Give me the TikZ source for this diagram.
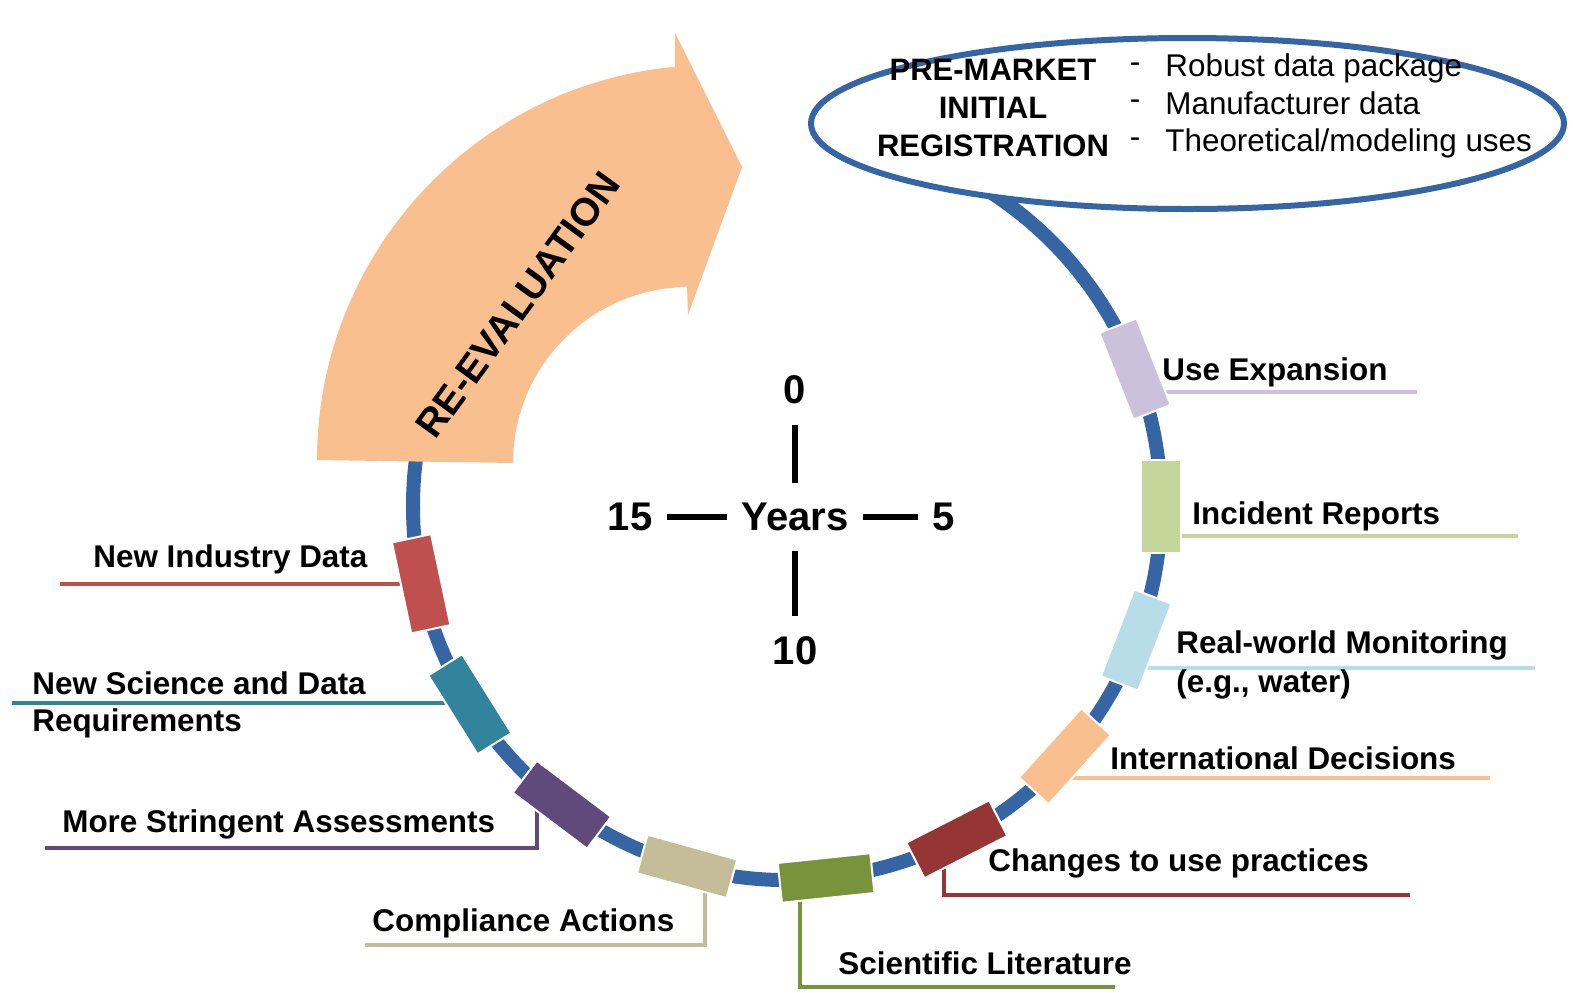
\documentclass[tikz,border=0pt]{standalone}
\usepackage{fontspec}
\setmainfont{Liberation Sans}
\usetikzlibrary{shapes.geometric,calc}
\definecolor{ringblue}{RGB}{54,101,163}
\definecolor{lav}{RGB}{204,193,218}
\definecolor{lgreen}{RGB}{196,215,155}
\definecolor{lblue}{RGB}{183,221,232}
\definecolor{peach}{RGB}{250,191,143}
\definecolor{dred}{RGB}{150,54,52}
\definecolor{olive}{RGB}{119,147,60}
\definecolor{tan}{RGB}{196,189,151}
\definecolor{purp}{RGB}{96,74,123}
\definecolor{teal}{RGB}{49,132,155}
\definecolor{redd}{RGB}{192,80,77}
\definecolor{arrowfill}{RGB}{249,191,143}
\begin{document}
\begin{tikzpicture}[x=0.5pt,y=0.5pt,
  seg/.style={draw=white, line width=1pt, minimum width=20pt, minimum height=46.5pt, inner sep=0pt},
  lead/.style={line width=2pt},
  lab/.style={anchor=west, inner sep=0pt, font=\fontsize{15.7}{19.5}\selectfont\bfseries, align=left},
  num/.style={inner xsep=7pt, inner ysep=10pt, font=\fontsize{20}{24}\selectfont\bfseries},
  tick/.style={line width=3pt}]
\useasboundingbox (0,0) rectangle (1573,-992);
\fill[white] (0,0) rectangle (1573,-992);
\coordinate (C) at (787,-506);
% ring
\draw[ringblue, line width=7pt] ($(C)+(62:374)$) arc[start angle=62, end angle=-188, radius=374];
% leader line ends
\coordinate (e1) at (1417,-392);
\coordinate (e2) at (1518,-536);
\coordinate (e3) at (1535,-668);
\coordinate (e4) at (1490,-778);
\coordinate (e5) at (1410,-895);
\coordinate (e6) at (1115,-987);
\coordinate (e7) at (365,-945);
\coordinate (e8) at (45,-848);
\coordinate (e9) at (12,-703);
\coordinate (e10) at (60,-584);
% segment boxes (positions)
\coordinate (p1) at ($(C)+(21.5:374)$);
\coordinate (p2) at ($(C)+(0:374)$);
\coordinate (p3) at ($(C)+(-21:374)$);
\coordinate (p4) at ($(C)+(-42:374)$);
\coordinate (p5) at ($(C)+(-63:374)$);
\coordinate (p6) at ($(C)+(-84:374)$);
\coordinate (p7) at ($(C)+(-105.5:374)$);
\coordinate (p8) at ($(C)+(-127:374)$);
\coordinate (p9) at ($(C)+(-148:374)$);
\coordinate (p10) at ($(C)+(-168:374)$);
% leader lines
\draw[lead, lav] (p1 |- e1) -- (e1);
\draw[lead, lgreen] (p2 |- e2) -- (e2);
\draw[lead, lblue] (p3 |- e3) -- (e3);
\draw[lead, peach] (p4 |- e4) -- (e4);
\draw[lead, dred] ($(p5)+(-13,0)$) |- (e5);
\draw[lead, olive] ($(p6)+(-26,0)$) |- (e6);
\draw[lead, tan] ($(p7)+(18,0)$) |- (e7);
\draw[lead, purp] ($(p8)+(-25,0)$) |- (e8);
\draw[lead, teal] (p9 |- e9) -- (e9);
\draw[lead, redd] (p10 |- e10) -- (e10);
% boxes
\node[seg, fill=lav, rotate=21.5] (s1) at (p1) {};
\node[seg, fill=lgreen, rotate=0] (s2) at (p2) {};
\node[seg, fill=lblue, rotate=-21] (s3) at (p3) {};
\node[seg, fill=peach, rotate=-42] (s4) at (p4) {};
\node[seg, fill=dred, rotate=-63] (s5) at (p5) {};
\node[seg, fill=olive, rotate=-84] (s6) at (p6) {};
\node[seg, fill=tan, rotate=-105.5] (s7) at (p7) {};
\node[seg, fill=purp, rotate=-127] (s8) at (p8) {};
\node[seg, fill=teal, rotate=-148] (s9) at (p9) {};
\node[seg, fill=redd, rotate=-168] (s10) at (p10) {};
% labels
\node[lab] (t1) at (1162,-372) {Use Expansion};
\node[lab] (t2) at (1192,-516) {Incident Reports};
\node[lab] (t3) at (1176,-664.5) {Real-world Monitoring\\(e.g., water)};
\node[lab] (t4) at (1110,-758) {International Decisions};
\node[lab] (t5) at (988,-863) {Changes to use practices};
\node[lab] (t6) at (838,-963) {Scientific Literature};
\node[lab] (t7) at (372,-923) {Compliance Actions};
\node[lab] (t8) at (62,-824) {More Stringent Assessments};
\node[lab, font=\fontsize{15.7}{18.5}\selectfont\bfseries] (t9) at (32,-704.5) {New Science and Data\\Requirements};
\node[lab] (t10) at (93,-559) {New Industry Data};
% re-evaluation arrow
\fill[arrowfill] (317,-460) arc[start angle=180, end angle=95.4, radius=395]
  -- (675,-33) -- (742,-167) -- (688,-315) -- (687,-287)
  arc[start angle=90.65, end angle=180, radius=176] -- cycle;
\node[rotate=54, inner sep=0pt, font=\fontsize{19.6}{22}\selectfont\bfseries] (reeval) at (518,-305) {RE-EVALUATION};
% bubble
\node[ellipse, draw=ringblue, line width=3pt, fill=white, minimum width=376.5pt, minimum height=85.5pt, inner sep=0pt] (bubble) at (1187.5,-123.5) {};
\node[inner sep=0pt, align=center, font=\fontsize{15.5}{18.8}\selectfont\bfseries] (pm) at (993,-108) {PRE-MARKET\\INITIAL\\REGISTRATION};
\node[inner sep=0pt, align=center, font=\fontsize{15.7}{18.8}\selectfont] (dash) at (1135,-105) {-\\-\\-};
\node[anchor=west, inner sep=0pt, align=left, font=\fontsize{15.7}{18.8}\selectfont] (pmr) at (1165,-106) {Robust data package\\Manufacturer data\\Theoretical/modeling uses};
% years cross
\node[num] (years) at (795,-517) {Years};
\node[num] (n15) at (630,-517) {15};
\node[num] (n5) at (944,-517) {5};
\node[num] (n0) at (795,-390) {0};
\node[num] (n10) at (795,-651) {10};
\draw[tick] (n15) -- (years);
\draw[tick] (years) -- (n5);
\draw[tick] (n0) -- (years);
\draw[tick] (years) -- (n10);
\end{tikzpicture}
\end{document}
